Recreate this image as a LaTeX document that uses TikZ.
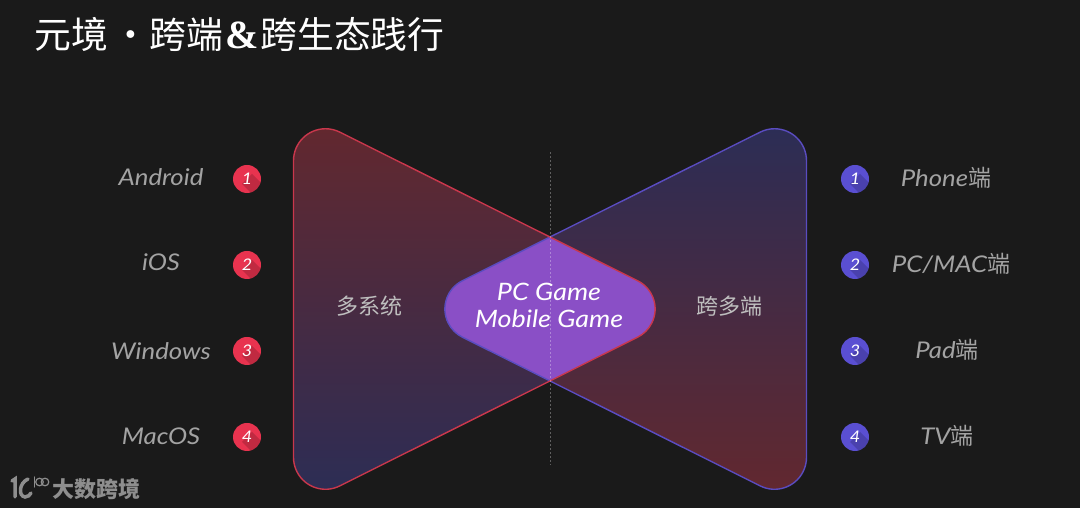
\documentclass[tikz,border=0pt]{standalone}
\usepackage{fontspec}
\setmainfont{Lato Italic}
\newfontfamily\cjk{Noto Sans CJK SC}
\newfontfamily\hand[FakeStretch=1.12]{Lato Italic}
\newfontfamily\ampfont{Liberation Serif Bold}
\definecolor{bgdark}{HTML}{1A1A1A}
\definecolor{redline}{HTML}{C9374C}
\definecolor{blueline}{HTML}{5A4CC0}
\definecolor{redtop}{HTML}{62282F}
\definecolor{bluetop}{HTML}{2C2D55}
\definecolor{lens}{HTML}{8A4FC6}
\definecolor{badgered}{HTML}{E8334F}
\definecolor{badgeblue}{HTML}{5A4FD2}
\definecolor{labelgray}{HTML}{A3A3A3}
\definecolor{logogray}{HTML}{8E8E8E}
\newcommand{\bowpath}{(-256.5,148.25) arc[start angle=180,end angle=63.43,radius=32] -- (87.7,28.2) arc[start angle=63.43,end angle=-63.43,radius=31.5] -- (-210.2,-176.9) arc[start angle=-63.43,end angle=-180,radius=32] -- cycle}
\begin{document}
\begin{tikzpicture}[x=1pt,y=1pt,
    badge/.style ={circle, inner sep=0pt, minimum size=28pt, text=white, font=\hand\fontsize{16}{16}\selectfont,
      path picture={\fill[black,opacity=0.17] ([shift={(5,5)}]path picture bounding box.center) -- ([shift={(-5,-5)}]path picture bounding box.center) -- ([shift={(15,-25)}]path picture bounding box.center) -- ([shift={(25,-15)}]path picture bounding box.center) -- cycle;}},
    platform/.style ={text=labelgray, inner sep=0pt, font=\hand\fontsize{23}{23}\selectfont},
    middle/.style ={text=white, inner sep=0pt, font=\hand\fontsize{24}{24}\selectfont},
    logoline/.style ={draw=logogray, line cap=round}]
   \fill[bgdark] (0,0) rectangle (1080,508);
   \useasboundingbox (0,0) rectangle (1080,508);
   % the two bows and their overlap
   \begin{scope}[shift={(550,199)}]
     \shade[top color=redtop, bottom color=bluetop] \bowpath;
     \begin{scope}[xscale=-1]
       \shade[top color=bluetop, bottom color=redtop] \bowpath;
     \end{scope}
     \begin{scope}
       \clip \bowpath;
       \begin{scope}[xscale=-1]
         \fill[lens] \bowpath;
       \end{scope}
     \end{scope}
     \begin{scope}[xscale=-1]
       \draw[blueline, line width=1.4pt] \bowpath;
     \end{scope}
     \draw[redline, line width=1.4pt] \bowpath;
   \end{scope}
   \coordinate (axistop) at (550,356);
   \coordinate (axisbottom) at (550,43);
   \draw[white, opacity=0.3, line width=0.5pt, dash pattern=on 2pt off 2pt] (axistop) -- (axisbottom);
   % title
   \node[text=white, inner sep=0pt, anchor=west, font=\cjk\fontsize{36.8}{36.8}\selectfont] (title) at (34,474) {元境\hspace{5pt}·跨端\hspace{2pt}{\ampfont\fontsize{40}{40}\selectfont\&}\hspace{2pt}跨生态践行};
   % left column
   \node[platform] (android) at (161,331) {Android};
   \node[platform] (ios) at (161,246) {iOS};
   \node[platform] (windows) at (161,157) {Windows};
   \node[platform] (macos) at (161,72) {MacOS};
   \node[badge, fill=badgered] (left1) at (247,329) {1};
   \node[badge, fill=badgered] (left2) at (247,243) {2};
   \node[badge, fill=badgered] (left3) at (247,157) {3};
   \node[badge, fill=badgered] (left4) at (247,71) {4};
   % right column
   \node[badge, fill=badgeblue] (right1) at (855,329) {1};
   \node[badge, fill=badgeblue] (right2) at (855,243) {2};
   \node[badge, fill=badgeblue] (right3) at (855,157) {3};
   \node[badge, fill=badgeblue] (right4) at (855,71) {4};
   \node[platform] (phone) at (946,330) {Phone{\cjk 端}};
   \node[platform] (pcmac) at (951,244) {PC/MAC{\cjk 端}};
   \node[platform] (pad) at (947,158) {Pad{\cjk 端}};
   \node[platform] (tv) at (947,72) {TV{\cjk 端}};
   % middle texts
   \node[platform, font=\cjk\fontsize{22}{22}\selectfont, text=labelgray!70!white] (multisys) at (369,202) {多系统};
   \node[platform, font=\cjk\fontsize{22}{22}\selectfont, text=labelgray!70!white] (multiend) at (729,202) {跨多端};
   \node[middle] (pcgame) at (549,216) {PC Game};
   \node[middle] (mobilegame) at (549,189) {Mobile Game};
   % logo
   \draw[logoline, line width=3.5pt] (12,27) -- (15,29) -- (15,11);
   \draw[logoline, line width=3.5pt] (28,29) .. controls (19,25) and (18,12) .. (25,11) .. controls (28,11) and (30,13) .. (31,15);
   \draw[logoline, line width=1.2pt] (34.5,31) -- (34.5,21);
   \draw[logoline, line width=1.2pt] (39.5,26) circle[radius=3.8];
   \draw[logoline, line width=1.2pt] (45,26) circle[radius=3.8];
   \node[text=logogray, inner sep=0pt, anchor=west, font=\cjk\fontsize{22}{22}\selectfont\bfseries] (brand) at (52,19) {大数跨境};
\end{tikzpicture}
\end{document}
